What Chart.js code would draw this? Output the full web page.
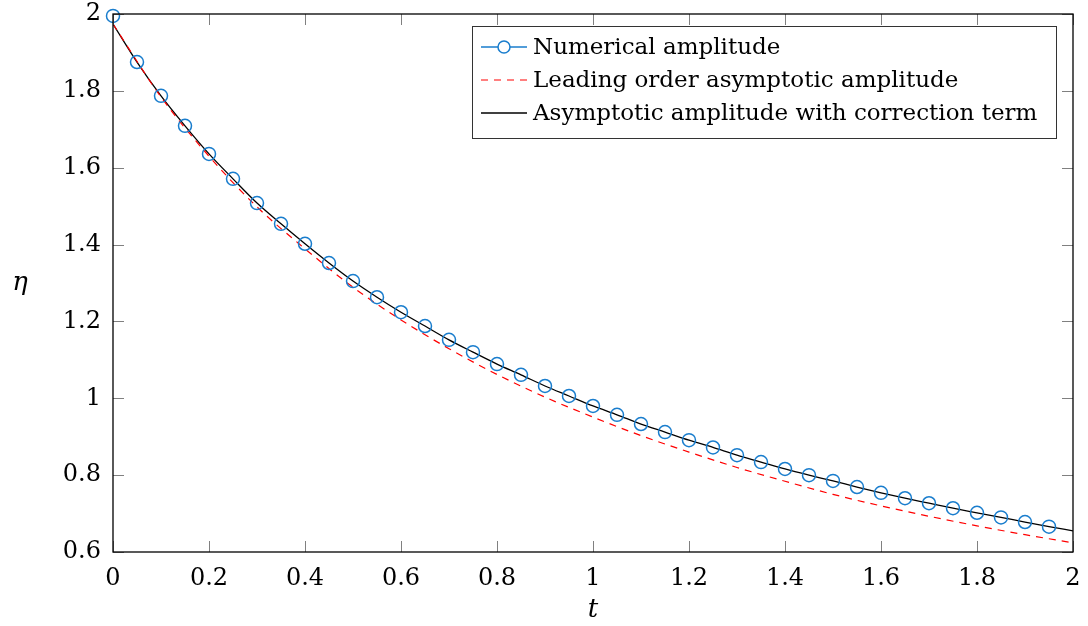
<!DOCTYPE html>
<html>
<head>
<meta charset="utf-8">
<script src="https://cdn.jsdelivr.net/npm/chart.js@4"></script>
<style>
  body { margin: 0; background: #fff; }
</style>
</head>
<body>
<canvas id="amp-chart" width="1088" height="626"></canvas>
<script>
// numerical amplitude (markers), t step 0.05
const tNumerical = [0, 0.05, 0.1, 0.15, 0.2, 0.25, 0.3, 0.35, 0.4, 0.45, 0.5, 0.55, 0.6, 0.65, 0.7, 0.75, 0.8, 0.85, 0.9, 0.95,
  1, 1.05, 1.1, 1.15, 1.2, 1.25, 1.3, 1.35, 1.4, 1.45, 1.5, 1.55, 1.6, 1.65, 1.7, 1.75, 1.8, 1.85, 1.9, 1.95]
const etaNumerical = [1.995, 1.875, 1.787, 1.709, 1.636, 1.571, 1.508, 1.454, 1.402, 1.352, 1.305, 1.263, 1.224, 1.188, 1.152, 1.120, 1.089, 1.061, 1.032, 1.006,
  0.980, 0.957, 0.933, 0.912, 0.891, 0.872, 0.852, 0.834, 0.816, 0.800, 0.785, 0.769, 0.754, 0.740, 0.727, 0.714, 0.702, 0.690, 0.678, 0.666]

// asymptotic amplitude with correction term
const tCorrected = [0, 0.05, 0.1, 0.15, 0.2, 0.25, 0.3, 0.35, 0.4, 0.45, 0.5, 0.55, 0.6, 0.65, 0.7, 0.75, 0.8, 0.85, 0.9, 0.95,
  1, 1.05, 1.1, 1.15, 1.2, 1.25, 1.3, 1.35, 1.4, 1.45, 1.5, 1.55, 1.6, 1.65, 1.7, 1.75, 1.8, 1.85, 1.9, 1.95, 2]
const etaCorrected = [1.974, 1.875, 1.787, 1.709, 1.636, 1.571, 1.508, 1.454, 1.402, 1.352, 1.305, 1.263, 1.224, 1.188, 1.152, 1.120, 1.089, 1.061, 1.032, 1.006,
  0.980, 0.957, 0.933, 0.912, 0.891, 0.872, 0.852, 0.834, 0.816, 0.800, 0.785, 0.769, 0.754, 0.740, 0.727, 0.714, 0.702, 0.690, 0.678, 0.666, 0.655]

// leading order asymptotic amplitude
const tLeading = [0, 0.1, 0.2, 0.3, 0.4, 0.5, 0.6, 0.7, 0.8, 0.9, 1, 1.1, 1.2, 1.3, 1.4, 1.5, 1.6, 1.7, 1.8, 1.9, 2]
const etaLeading = [1.974, 1.784, 1.630, 1.498, 1.389, 1.289, 1.204, 1.129, 1.062, 1.003, 0.951, 0.903, 0.860, 0.820, 0.784, 0.750, 0.720, 0.693, 0.668, 0.645, 0.624]

const xTicks = [0, 0.2, 0.4, 0.6, 0.8, 1, 1.2, 1.4, 1.6, 1.8, 2]
const xTickLabels = ["0", "0.2", "0.4", "0.6", "0.8", "1", "1.2", "1.4", "1.6", "1.8", "2"]
const yTicks = [0.6, 0.8, 1, 1.2, 1.4, 1.6, 1.8, 2]
const yTickLabels = ["0.6", "0.8", "1", "1.2", "1.4", "1.6", "1.8", "2"]

const labels = ["Numerical amplitude", "Leading order asymptotic amplitude", "Asymptotic amplitude with correction term"]

const BLUE = "rgb(25,125,205)"
const RED = "rgb(255,0,0)"
const FONT = "'DejaVu Serif', serif"

const pairs = (xs, ys) => xs.map((x, i) => ({ x: x, y: ys[i] }))

function tickLabel(values, texts) {
  return function (v) {
    const i = values.findIndex(t => Math.abs(t - v) < 1e-6)
    return i >= 0 ? texts[i] : ""
  }
}

// frame, inward ticks, axis titles, legend box
const decorations = {
  id: "decorations",
  afterDraw(chart) {
    const { ctx, chartArea: a, scales } = chart
    const len = 11
    ctx.save()
    ctx.strokeStyle = "#808080"
    ctx.lineWidth = 1
    ctx.beginPath()
    xTicks.forEach(v => {
      const px = Math.round(scales.x.getPixelForValue(v)) + 0.5
      ctx.moveTo(px, a.bottom); ctx.lineTo(px, a.bottom - len)
      ctx.moveTo(px, a.top); ctx.lineTo(px, a.top + len)
    })
    yTicks.forEach(v => {
      const py = Math.round(scales.y.getPixelForValue(v)) + 0.5
      ctx.moveTo(a.left, py); ctx.lineTo(a.left + len, py)
      ctx.moveTo(a.right, py); ctx.lineTo(a.right - len, py)
    })
    ctx.stroke()

    ctx.strokeStyle = "#000"
    ctx.lineWidth = 1.3
    ctx.strokeRect(a.left, a.top, a.right - a.left, a.bottom - a.top)

    ctx.fillStyle = "#000"
    ctx.font = "italic 26px " + FONT
    ctx.textAlign = "center"
    ctx.textBaseline = "middle"
    ctx.fillText("t", (a.left + a.right) / 2, 610)
    ctx.fillText("η", 20, (a.top + a.bottom) / 2)

    // legend
    const bx = 472, by = 26, bw = 584, bh = 112
    ctx.fillStyle = "#fff"
    ctx.fillRect(bx, by, bw, bh)
    ctx.strokeStyle = "#333"
    ctx.lineWidth = 1
    ctx.strokeRect(bx + 0.5, by + 0.5, bw, bh)
    const rows = [47, 80, 113]
    ctx.font = "23px " + FONT
    ctx.textAlign = "left"
    ctx.fillStyle = "#000"
    rows.forEach((ry, i) => {
      ctx.beginPath()
      ctx.moveTo(481, ry); ctx.lineTo(527, ry)
      if (i === 0) { ctx.strokeStyle = BLUE; ctx.lineWidth = 1.3; ctx.setLineDash([]) }
      if (i === 1) { ctx.strokeStyle = RED; ctx.lineWidth = 1.2; ctx.setLineDash([7, 6]) }
      if (i === 2) { ctx.strokeStyle = "#000"; ctx.lineWidth = 1.3; ctx.setLineDash([]) }
      ctx.stroke()
      ctx.setLineDash([])
      if (i === 0) {
        ctx.beginPath()
        ctx.arc(504, ry, 6, 0, Math.PI * 2)
        ctx.fillStyle = "#fff"
        ctx.fill()
        ctx.strokeStyle = BLUE
        ctx.lineWidth = 1.5
        ctx.stroke()
        ctx.fillStyle = "#000"
      }
      ctx.fillText(labels[i], 533, ry + 1)
    })
    ctx.restore()
  },
}

const ctx = document.getElementById("amp-chart")

const ampChart = new Chart(ctx, {
  type: "line",
  data: {
    datasets: [
      {
        label: labels[0],
        data: pairs(tNumerical, etaNumerical),
        showLine: false,
        borderColor: BLUE,
        backgroundColor: "transparent",
        pointRadius: 6.5,
        pointBorderWidth: 1.5,
        pointBorderColor: BLUE,
        pointBackgroundColor: "transparent",
        clip: false,
      },
      {
        label: labels[1],
        data: pairs(tLeading, etaLeading),
        borderColor: RED,
        borderWidth: 1.2,
        borderDash: [7, 6],
        pointRadius: 0,
        fill: false,
        cubicInterpolationMode: "monotone",
      },
      {
        label: labels[2],
        data: pairs(tCorrected, etaCorrected),
        borderColor: "#000",
        borderWidth: 1.3,
        pointRadius: 0,
        fill: false,
        cubicInterpolationMode: "monotone",
      },
    ],
  },
  options: {
    responsive: false,
    animation: false,
    devicePixelRatio: 1,
    layout: { padding: { top: 14, right: 15, left: 0, bottom: 0 } },
    plugins: {
      legend: { display: false },
      tooltip: { enabled: false },
    },
    scales: {
      x: {
        type: "linear",
        min: 0,
        max: 2,
        grid: { display: false, drawTicks: false },
        border: { display: false },
        afterBuildTicks: s => { s.ticks = xTicks.map(v => ({ value: v })) },
        afterFit: s => { s.height = 74; s.paddingLeft = 0; s.paddingRight = 0 },
        ticks: {
          padding: 12,
          maxRotation: 0,
          color: "#000",
          font: { family: FONT, size: 24 },
          callback: tickLabel(xTicks, xTickLabels),
        },
      },
      y: {
        type: "linear",
        min: 0.6,
        max: 2,
        grid: { display: false, drawTicks: false },
        border: { display: false },
        afterBuildTicks: s => { s.ticks = yTicks.map(v => ({ value: v })) },
        afterFit: s => { s.width = 113; s.paddingTop = 0; s.paddingBottom = 0 },
        ticks: {
          padding: 12,
          color: "#000",
          font: { family: FONT, size: 24 },
          callback: tickLabel(yTicks, yTickLabels),
        },
      },
    },
  },
  plugins: [decorations],
})
</script>
</body>
</html>
